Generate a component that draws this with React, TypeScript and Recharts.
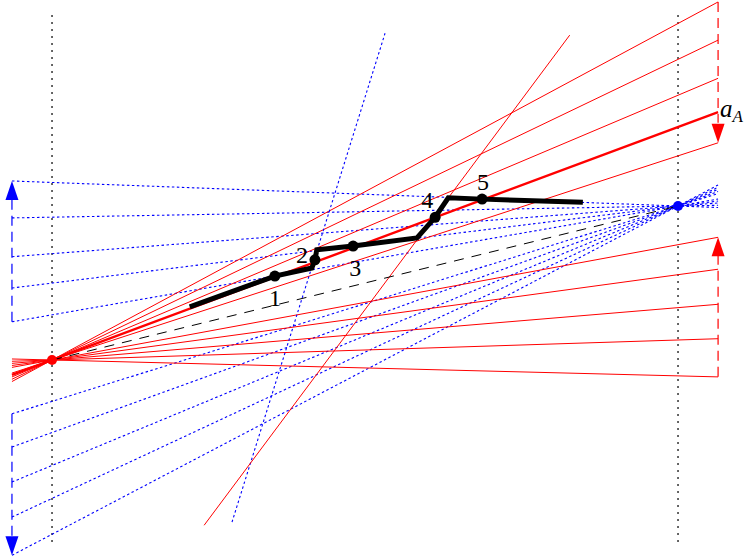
import React from "react";
import {
  ComposedChart,
  XAxis,
  YAxis,
  Line,
  ReferenceLine,
  ReferenceDot,
} from "recharts";

// plane coordinates: focus A at origin, the two dotted verticals at x = 0 and x = 100
const X_DOMAIN = [-8.31, 110.7];
const Y_DOMAIN = [-31.95, 57.51];

const RULER_RED = 106.4;
const RULER_BLUE = -6.4;

const focusA = { x: 0, y: 0 };
const focusB = { x: 100, y: 24.6 };

// heights where the red rays meet the right ruler
const redEnds = [57.2, 51.1, 45.0, 34.7, 19.6, 14.5, 8.9, 3.4, -2.7];
const aAEnd = 39.6;
// heights where the blue rays meet the left ruler
const blueEnds = [28.6, 22.7, 16.5, 11.5, 6.1, -8.6, -13.9, -19.5, -25.1, -31.2];

const guideTop = 55.1;
const guideBottom = -29.6;

const steepBlue = [
  { x: 28.75, y: -25.9 },
  { x: 53.2, y: 52.2 },
];
const steepRed = [
  { x: 24.3, y: -26.4 },
  { x: 82.7, y: 51.9 },
];

const pathPoints = [
  { x: 22.0, y: 8.5 },
  { x: 35.6, y: 13.4, label: "1" },
  { x: 41.5, y: 14.7 },
  { x: 42.0, y: 16.0, label: "2" },
  { x: 42.3, y: 17.6 },
  { x: 48.1, y: 18.2, label: "3" },
  { x: 58.3, y: 19.5 },
  { x: 61.2, y: 22.8, label: "4" },
  { x: 63.3, y: 25.9 },
  { x: 68.7, y: 25.7, label: "5" },
  { x: 84.8, y: 25.2 },
];

// red ruler: dashed runs and arrow tips
const redRuns = [
  [57.2, 37.9],
  [16.8, -2.7],
];
const redArrows = [
  { y: 34.7, dir: "down" },
  { y: 19.6, dir: "up" },
];
// blue ruler
const blueRuns = [
  [25.6, 6.1],
  [-8.6, -28.3],
];
const blueArrows = [
  { y: 28.6, dir: "up" },
  { y: -31.2, dir: "down" },
];

const labelOffset: Record<string, [number, number]> = {
  "1": [0, 22],
  "2": [-13, -5],
  "3": [2, 22],
  "4": [-8, -17],
  "5": [1, -17],
};

const RED = "#ff0000";
const BLUE = "#0000ff";
const FONT = "'Liberation Serif', 'DejaVu Serif', serif";

// extend the ray from `end` on one ruler through `focus` to the other ruler
function through(endX: number, endY: number, focus: { x: number; y: number }, toX: number) {
  const t = (toX - endX) / (focus.x - endX);
  return endY + (focus.y - endY) * t;
}

function Arrow(props: any) {
  const { cx, cy, fill, dir } = props;
  if (cx == null || cy == null) return null;
  const h = 19;
  const w = 6.5;
  const base = dir === "down" ? cy - h : cy + h;
  return (
    <path
      d={`M${cx},${cy} L${cx - w},${base} L${cx + w},${base} Z`}
      fill={fill}
    />
  );
}

function NumberLabel(props: any) {
  const { cx, cy, text } = props;
  if (cx == null || cy == null) return null;
  const [dx, dy] = labelOffset[text] || [0, 0];
  return (
    <text
      x={cx + dx}
      y={cy + dy}
      textAnchor="middle"
      dominantBaseline="central"
      fontFamily={FONT}
      fontSize={24}
      fill="#000"
    >
      {text}
    </text>
  );
}

function AALabel(props: any) {
  const { cx, cy } = props;
  if (cx == null || cy == null) return null;
  return (
    <text x={cx + 2} y={cy + 5} fontFamily={FONT} fontSize={25} fill="#000">
      <tspan fontStyle="italic">a</tspan>
      <tspan fontStyle="italic" fontSize={17} dy={5}>
        A
      </tspan>
    </text>
  );
}

export default function App() {
  const redRay = (e: number) => [
    { x: RULER_RED, y: e },
    { x: RULER_BLUE, y: through(RULER_RED, e, focusA, RULER_BLUE) },
  ];
  const blueRay = (e: number) => [
    { x: RULER_BLUE, y: e },
    { x: RULER_RED, y: through(RULER_BLUE, e, focusB, RULER_RED) },
  ];

  return (
    <div style={{ position: "fixed", left: 0, top: 0, background: "#fff" }}>
      <ComposedChart
        width={745}
        height={560}
        margin={{ top: 0, right: 0, bottom: 0, left: 0 }}
      >
        <XAxis
          type="number"
          dataKey="x"
          domain={X_DOMAIN}
          allowDataOverflow
          hide
        />
        <YAxis
          type="number"
          dataKey="y"
          domain={Y_DOMAIN}
          allowDataOverflow
          hide
        />

        {/* dotted guides through the two foci */}
        {[focusA.x, focusB.x].map((gx) => (
          <ReferenceLine
            key={`g${gx}`}
            segment={[
              { x: gx, y: guideTop },
              { x: gx, y: guideBottom },
            ]}
            stroke="#000"
            strokeWidth={1.2}
            strokeDasharray="2 5"
            ifOverflow="visible"
          />
        ))}

        {/* blue dotted fan through B */}
        {blueEnds.map((e) => (
          <ReferenceLine
            key={`b${e}`}
            segment={blueRay(e)}
            stroke={BLUE}
            strokeWidth={1.1}
            strokeDasharray="2.5 2.5"
            ifOverflow="visible"
          />
        ))}
        {blueRuns.map(([a, b]) => (
          <ReferenceLine
            key={`br${a}`}
            segment={[
              { x: RULER_BLUE, y: a },
              { x: RULER_BLUE, y: b },
            ]}
            stroke={BLUE}
            strokeWidth={1.2}
            strokeDasharray="10 6"
            ifOverflow="visible"
          />
        ))}

        {/* red fan through A */}
        {redEnds.map((e) => (
          <ReferenceLine
            key={`r${e}`}
            segment={redRay(e)}
            stroke={RED}
            strokeWidth={1}
            ifOverflow="visible"
          />
        ))}
        <ReferenceLine
          segment={redRay(aAEnd)}
          stroke={RED}
          strokeWidth={2.4}
          ifOverflow="visible"
        />
        {redRuns.map(([a, b]) => (
          <ReferenceLine
            key={`rr${a}`}
            segment={[
              { x: RULER_RED, y: a },
              { x: RULER_RED, y: b },
            ]}
            stroke={RED}
            strokeWidth={1.2}
            strokeDasharray="10 6"
            ifOverflow="visible"
          />
        ))}

        <ReferenceLine
          segment={steepBlue}
          stroke={BLUE}
          strokeWidth={1.1}
          strokeDasharray="2.5 2.5"
          ifOverflow="visible"
        />
        <ReferenceLine
          segment={steepRed}
          stroke={RED}
          strokeWidth={1}
          ifOverflow="visible"
        />

        {/* A to B */}
        <ReferenceLine
          segment={[focusA, focusB]}
          stroke="#000"
          strokeWidth={1}
          strokeDasharray="10 8"
          ifOverflow="visible"
        />

        {redArrows.map((a) => (
          <ReferenceDot
            key={`ra${a.y}`}
            x={RULER_RED}
            y={a.y}
            ifOverflow="visible"
            shape={(p: any) => <Arrow {...p} fill={RED} dir={a.dir} />}
          />
        ))}
        {blueArrows.map((a) => (
          <ReferenceDot
            key={`ba${a.y}`}
            x={RULER_BLUE}
            y={a.y}
            ifOverflow="visible"
            shape={(p: any) => <Arrow {...p} fill={BLUE} dir={a.dir} />}
          />
        ))}

        <Line
          data={pathPoints}
          dataKey="y"
          type="linear"
          stroke="#000"
          strokeWidth={5}
          strokeLinejoin="miter"
          dot={(p: any) =>
            p.payload.label ? (
              <circle key={p.index} cx={p.cx} cy={p.cy} r={5.5} fill="#000" />
            ) : (
              <g key={p.index} />
            )
          }
          activeDot={false}
          isAnimationActive={false}
        />

        {pathPoints
          .filter((p) => p.label)
          .map((p) => (
            <ReferenceDot
              key={`l${p.label}`}
              x={p.x}
              y={p.y}
              ifOverflow="visible"
              shape={(s: any) => <NumberLabel {...s} text={p.label} />}
            />
          ))}

        <ReferenceDot
          x={RULER_RED}
          y={aAEnd}
          ifOverflow="visible"
          shape={(s: any) => <AALabel {...s} />}
        />

        <ReferenceDot
          x={focusA.x}
          y={focusA.y}
          r={5}
          fill={RED}
          stroke="none"
          ifOverflow="visible"
        />
        <ReferenceDot
          x={focusB.x}
          y={focusB.y}
          r={5}
          fill={BLUE}
          stroke="none"
          ifOverflow="visible"
        />
      </ComposedChart>
    </div>
  );
}
